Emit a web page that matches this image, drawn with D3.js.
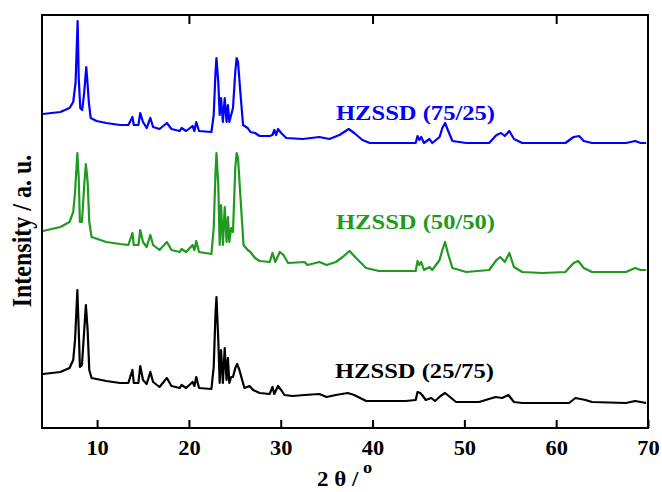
<!DOCTYPE html>
<html>
<head>
<meta charset="utf-8">
<script src="https://cdn.jsdelivr.net/npm/d3@7"></script>
<style>
  body { margin: 0; background: #fff; }
  text { font-family: "Liberation Serif", "Times New Roman", serif; font-weight: bold; }
</style>
</head>
<body>
<div id="chart"></div>
<script>
// Data: [2theta, intensity (a.u., stacked)]
var blueSeries = [
  [4.1,314],[6.0,316],[7.0,320],[7.4,326],[7.66,346],[7.88,407],[8.0,350],[8.17,320],[8.38,318],
  [8.6,336],[8.82,361],[8.97,343],[9.1,326],[9.3,310],[9.95,307],[11.0,305],[12.5,303],[13.4,303],
  [13.85,311],[14.0,303],[14.5,303],[14.7,315],[15.0,306],[15.4,300],[15.8,310],[16.1,301],[16.8,299],
  [17.6,305],[18.1,299],[19.0,297],[19.2,300],[19.7,297],[20.4,302],[20.6,297],[20.8,306],[21.1,297],
  [22.45,296],[22.7,313],[22.9,356],[23.0,370],[23.2,346],[23.35,313],[23.5,330],[23.7,306],[23.9,330],
  [24.1,306],[24.25,323],[24.4,306],[24.6,313],[24.8,320],[25.05,356],[25.2,370],[25.35,366],[25.6,336],
  [25.9,303],[26.4,300],[26.7,296],[27.2,295],[27.7,292],[28.8,292],[29.1,293],[29.3,298],[29.5,293],
  [29.7,299],[30.05,295],[30.6,290],[32.4,289],[34.2,291],[35.3,289],[36.4,293],[37.4,299],[38.0,295],
  [38.9,288],[39.7,285],[44.7,285],[44.9,292],[45.1,288],[45.3,291],[45.6,285],[46.2,289],[46.5,285],
  [47.3,291],[47.6,300],[47.9,305],[48.2,298],[48.7,287],[50.2,285],[52.7,285],[53.5,293],[54.0,295],
  [54.4,292],[54.9,297],[55.4,289],[56.3,285],[58.5,285],[61.0,285],[61.9,291],[62.5,292],[63.0,287],
  [63.9,285],[67.6,285],[68.6,287],[69.2,285],[69.8,285]
];
var greenSeries = [
  [4.1,197],[6.0,201],[7.0,206],[7.4,216],[7.6,236],[7.85,275],[8.0,250],[8.13,206],[8.35,206],
  [8.6,243],[8.78,264],[8.97,246],[9.15,206],[9.4,191],[11.0,186],[12.5,184],[13.4,183],[13.85,195],
  [14.0,183],[14.5,183],[14.7,198],[15.0,186],[15.4,181],[15.8,193],[16.1,183],[16.8,178],[17.6,186],
  [18.1,178],[19.0,176],[19.2,179],[19.7,176],[20.4,183],[20.6,178],[20.8,187],[21.1,176],[22.45,174],
  [22.7,200],[22.9,256],[23.0,275],[23.2,243],[23.35,183],[23.5,223],[23.7,183],[23.9,221],[24.1,186],
  [24.25,211],[24.4,186],[24.6,200],[24.8,196],[25.05,260],[25.2,275],[25.35,270],[25.6,233],[25.95,183],
  [26.4,178],[26.7,176],[27.2,170],[27.7,167],[28.8,166],[29.1,175],[29.4,166],[29.9,176],[30.3,173],
  [30.8,165],[32.6,166],[32.9,163],[34.2,166],[35.0,163],[36.0,166],[36.75,171],[37.5,177],[38.2,170],
  [39.3,160],[40.7,157],[44.7,157],[44.9,167],[45.1,163],[45.3,166],[45.6,158],[46.2,161],[46.5,158],
  [47.3,168],[47.6,178],[47.9,186],[48.2,175],[48.7,160],[50.2,156],[52.7,158],[53.5,168],[53.9,171],
  [54.4,166],[54.9,175],[55.4,161],[56.3,156],[58.5,155],[61.0,156],[61.9,165],[62.4,167],[63.0,160],
  [63.9,156],[67.6,156],[68.6,160],[69.2,158],[69.8,158]
];
var blackSeries = [
  [4.1,54],[6.0,56],[7.0,60],[7.4,68],[7.6,88],[7.85,138],[8.0,98],[8.13,61],[8.35,63],[8.6,98],
  [8.78,123],[8.97,98],[9.15,58],[9.4,50],[11.0,47],[12.5,45],[13.4,45],[13.85,58],[14.0,45],[14.5,45],
  [14.7,62],[15.0,48],[15.4,44],[15.8,56],[16.1,46],[16.8,41],[17.6,50],[18.1,42],[19.0,40],[19.2,43],
  [19.7,40],[20.4,46],[20.6,42],[20.8,51],[21.1,40],[22.45,39],[22.7,61],[22.9,115],[23.0,131],[23.2,88],
  [23.35,45],[23.5,78],[23.7,45],[23.9,80],[24.1,48],[24.25,70],[24.4,45],[24.6,51],[24.8,51],[25.05,60],
  [25.25,64],[25.5,58],[25.8,48],[26.05,40],[26.6,42],[27.0,38],[27.7,35],[28.8,34],[29.1,41],[29.3,34],
  [29.7,42],[30.05,38],[30.4,33],[31.3,32],[32.6,33],[34.2,34],[35.0,31],[36.0,33],[37.3,35],[38.0,33],
  [39.3,27],[43.6,27],[44.7,28],[44.9,36],[45.2,35],[45.4,33],[45.8,28],[46.4,30],[46.8,27],[47.4,32],
  [47.9,35],[48.3,32],[49.1,26],[51.6,26],[53.4,31],[54.1,30],[54.8,33],[55.4,26],[56.3,25],[61.4,25],
  [62.1,30],[63.2,28],[63.9,26],[67.6,25],[68.6,27],[69.8,25]
];

var seriesNames = ["HZSSD (75/25)", "HZSSD (50/50)", "HZSSD (25/75)"];
var seriesColors = ["#0000ff", "#1f9a1f", "#000000"];
var labelAnchors = [[336, 120], [336, 229], [335, 378]];

var bottomTicks = [10, 20, 30, 40, 50, 60, 70];
var topTicks = [20, 40, 60];

var svgWidth = 662;
var svgHeight = 492;
var margin = { top: 15, right: 14, bottom: 64, left: 42 };
var width = svgWidth - margin.left - margin.right;
var height = svgHeight - margin.top - margin.bottom;

var svg = d3.select("#chart")
  .append("svg")
  .attr("width", svgWidth)
  .attr("height", svgHeight);

var chartGroup = svg.append("g")
  .attr("transform", `translate(${margin.left}, ${margin.top})`);

var xScale = d3.scaleLinear().domain([4, 70]).range([0, width]);
var yScale = d3.scaleLinear().domain([0, height]).range([height, 0]);

// traces
var line = d3.line()
  .x(d => xScale(d[0]))
  .y(d => yScale(d[1]));

[blueSeries, greenSeries, blackSeries].forEach(function (s, i) {
  chartGroup.append("path")
    .datum(s)
    .attr("fill", "none")
    .attr("stroke", seriesColors[i])
    .attr("stroke-width", 2.2)
    .attr("stroke-linejoin", "round")
    .attr("d", line);
});

// axes
var bottomAxis = d3.axisBottom(xScale)
  .tickValues(bottomTicks)
  .tickSize(-8)
  .tickPadding(13);

var xAxis = chartGroup.append("g")
  .attr("transform", `translate(0, ${height})`)
  .call(bottomAxis);
xAxis.select(".domain").remove();
xAxis.selectAll("line").attr("stroke", "#000").attr("stroke-width", 2);
xAxis.selectAll("text")
  .attr("fill", "#000")
  .attr("font-size", "20px")
  .attr("transform", "scale(1.12,1)")
  .style("font-family", "'Liberation Serif', serif")
  .style("font-weight", "bold");

var topAxis = d3.axisTop(xScale)
  .tickValues(topTicks)
  .tickSize(-9)
  .tickFormat("");
var xAxisTop = chartGroup.append("g").call(topAxis);
xAxisTop.select(".domain").remove();
xAxisTop.selectAll("line").attr("stroke", "#000").attr("stroke-width", 2);

// frame
chartGroup.append("rect")
  .attr("x", 0)
  .attr("y", 0)
  .attr("width", width)
  .attr("height", height)
  .attr("fill", "none")
  .attr("stroke", "#000")
  .attr("stroke-width", 2);

// series labels
seriesNames.forEach(function (name, i) {
  svg.append("text")
    .attr("x", labelAnchors[i][0])
    .attr("y", labelAnchors[i][1])
    .attr("fill", seriesColors[i])
    .attr("font-size", "21px")
    .attr("textLength", 159)
    .attr("lengthAdjust", "spacingAndGlyphs")
    .text(name);
});

// axis titles
svg.append("text")
  .attr("transform", "translate(31, 231) scale(1.17,1) rotate(-90)")
  .attr("text-anchor", "middle")
  .attr("font-size", "24px")
  .attr("fill", "#000")
  .text("Intensity / a. u.");

var xTitle = svg.append("text")
  .attr("transform", "translate(317, 486) scale(1.15,1)")
  .attr("font-size", "20px")
  .attr("fill", "#000");
xTitle.append("tspan").text("2 θ /");
xTitle.append("tspan")
  .attr("dx", 4)
  .attr("dy", -13)
  .attr("font-size", "16px")
  .text("o");
</script>
</body>
</html>
